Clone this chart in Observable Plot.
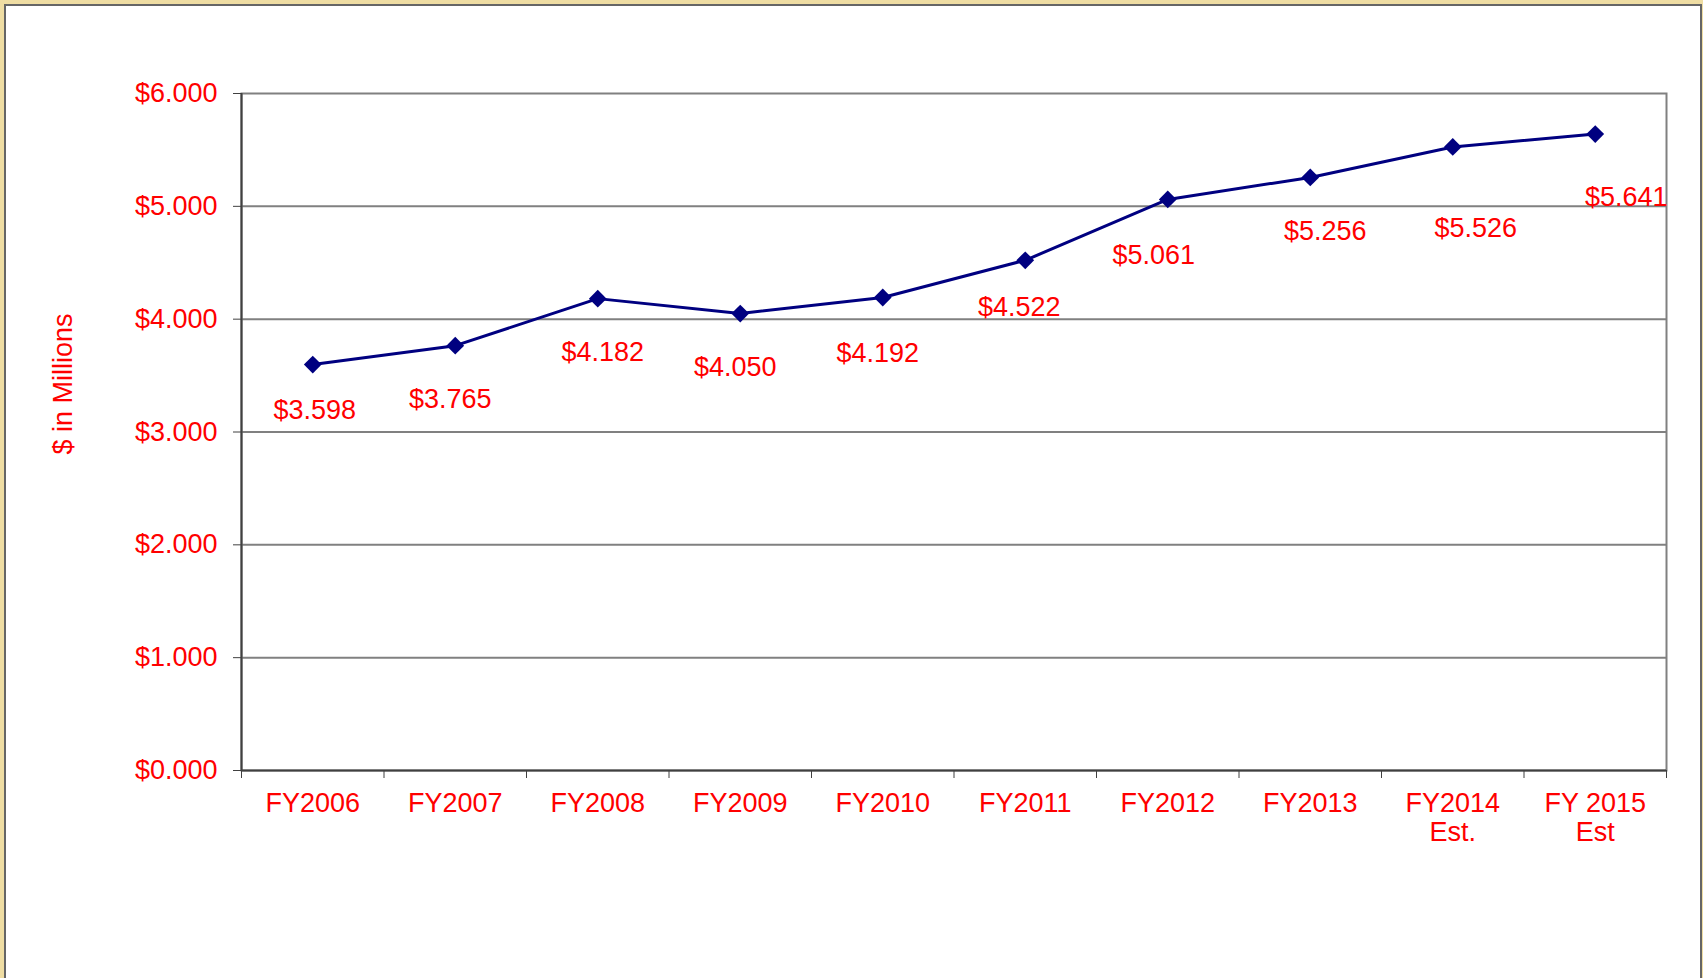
<!DOCTYPE html>
<html>
<head>
<meta charset="utf-8">
<script src="https://cdn.jsdelivr.net/npm/d3@7"></script>
<script src="https://cdn.jsdelivr.net/npm/@observablehq/plot@0.6"></script>
<style>
  html, body { margin: 0; padding: 0; width: 1703px; height: 978px; overflow: hidden; background: #efdda3; }
  #frame { position: absolute; left: 4px; top: 4px; width: 1694px; height: 1000px; background: #ffffff;
           border-left: 2px solid #666666; border-top: 2px solid #666666; border-right: 2px solid #666666; }
  #chart { position: absolute; left: 0; top: 0; }
</style>
</head>
<body>
<div id="frame"></div>
<div id="chart"></div>
<script>
// ---- data ----
const categories = ["FY2006", "FY2007", "FY2008", "FY2009", "FY2010", "FY2011", "FY2012", "FY2013", "FY2014\nEst.", "FY 2015\nEst"];
const values = [3.598, 3.765, 4.182, 4.050, 4.192, 4.522, 5.061, 5.256, 5.526, 5.641];
const yTicks = [0, 1, 2, 3, 4, 5, 6];
const yLabel = "$ in Millions";

// ---- layout (label nudges, in px) ----
const labelDx = [2, -5, 5, -5, -5, -6, -14, 15, 23, 31];
const labelDy = [46, 54, 54, 54, 56, 47, 56, 54, 81, 63];

const fmt = v => "$" + v.toFixed(3);
const data = categories.map((c, i) => ({category: c, pos: i + 0.5, value: values[i]}));
const centers = data.map(d => d.pos);
const boundaries = d3.range(categories.length + 1);

const red = "#ff0000";
const navy = "#000080";

const labelMarks = data.map((d, i) => Plot.text([d], {
  x: "pos", y: "value", text: r => fmt(r.value), fill: red,
  dx: labelDx[i], dy: labelDy[i]
}));

const chart = Plot.plot({
  width: 1703,
  height: 978,
  marginLeft: 241,
  marginRight: 37,
  marginTop: 93,
  marginBottom: 208,
  style: {background: "transparent", fontFamily: "'Liberation Sans', Arial, sans-serif", fontSize: "27px", overflow: "visible"},
  x: {type: "linear", domain: [0, categories.length], axis: null},
  y: {domain: [0, 6], axis: null},
  marks: [
    Plot.ruleY(yTicks.filter(v => v > 0 && v < 6), {stroke: "#808080", strokeWidth: 2}),
    Plot.frame({stroke: "#808080", strokeWidth: 2}),
    Plot.ruleX([0], {stroke: "#404040", strokeWidth: 2}),
    Plot.ruleY([0], {stroke: "#404040", strokeWidth: 2}),
    Plot.axisY(yTicks, {tickSize: 8, tickPadding: 16, tickFormat: fmt, stroke: "#404040", fill: red, label: null, fontSize: 27}),
    Plot.axisX(boundaries, {tickSize: 8, stroke: "#404040", fill: "none", label: null}),
    Plot.axisX(centers, {tickSize: 0, tickPadding: 20, tickFormat: v => categories[Math.floor(v)], fill: red, label: null, fontSize: 27, lineHeight: 1.1}),
    Plot.text([yLabel], {frameAnchor: "left", textAnchor: "middle", text: d => d, dx: -178, dy: -48, rotate: -90, fill: red, fontSize: 27}),
    Plot.line(data, {x: "pos", y: "value", stroke: navy, strokeWidth: 3}),
    Plot.dot(data, {x: "pos", y: "value", symbol: "diamond2", r: 8, fill: navy, stroke: "none"}),
    ...labelMarks
  ]
});
document.getElementById("chart").appendChild(chart);
</script>
</body>
</html>
